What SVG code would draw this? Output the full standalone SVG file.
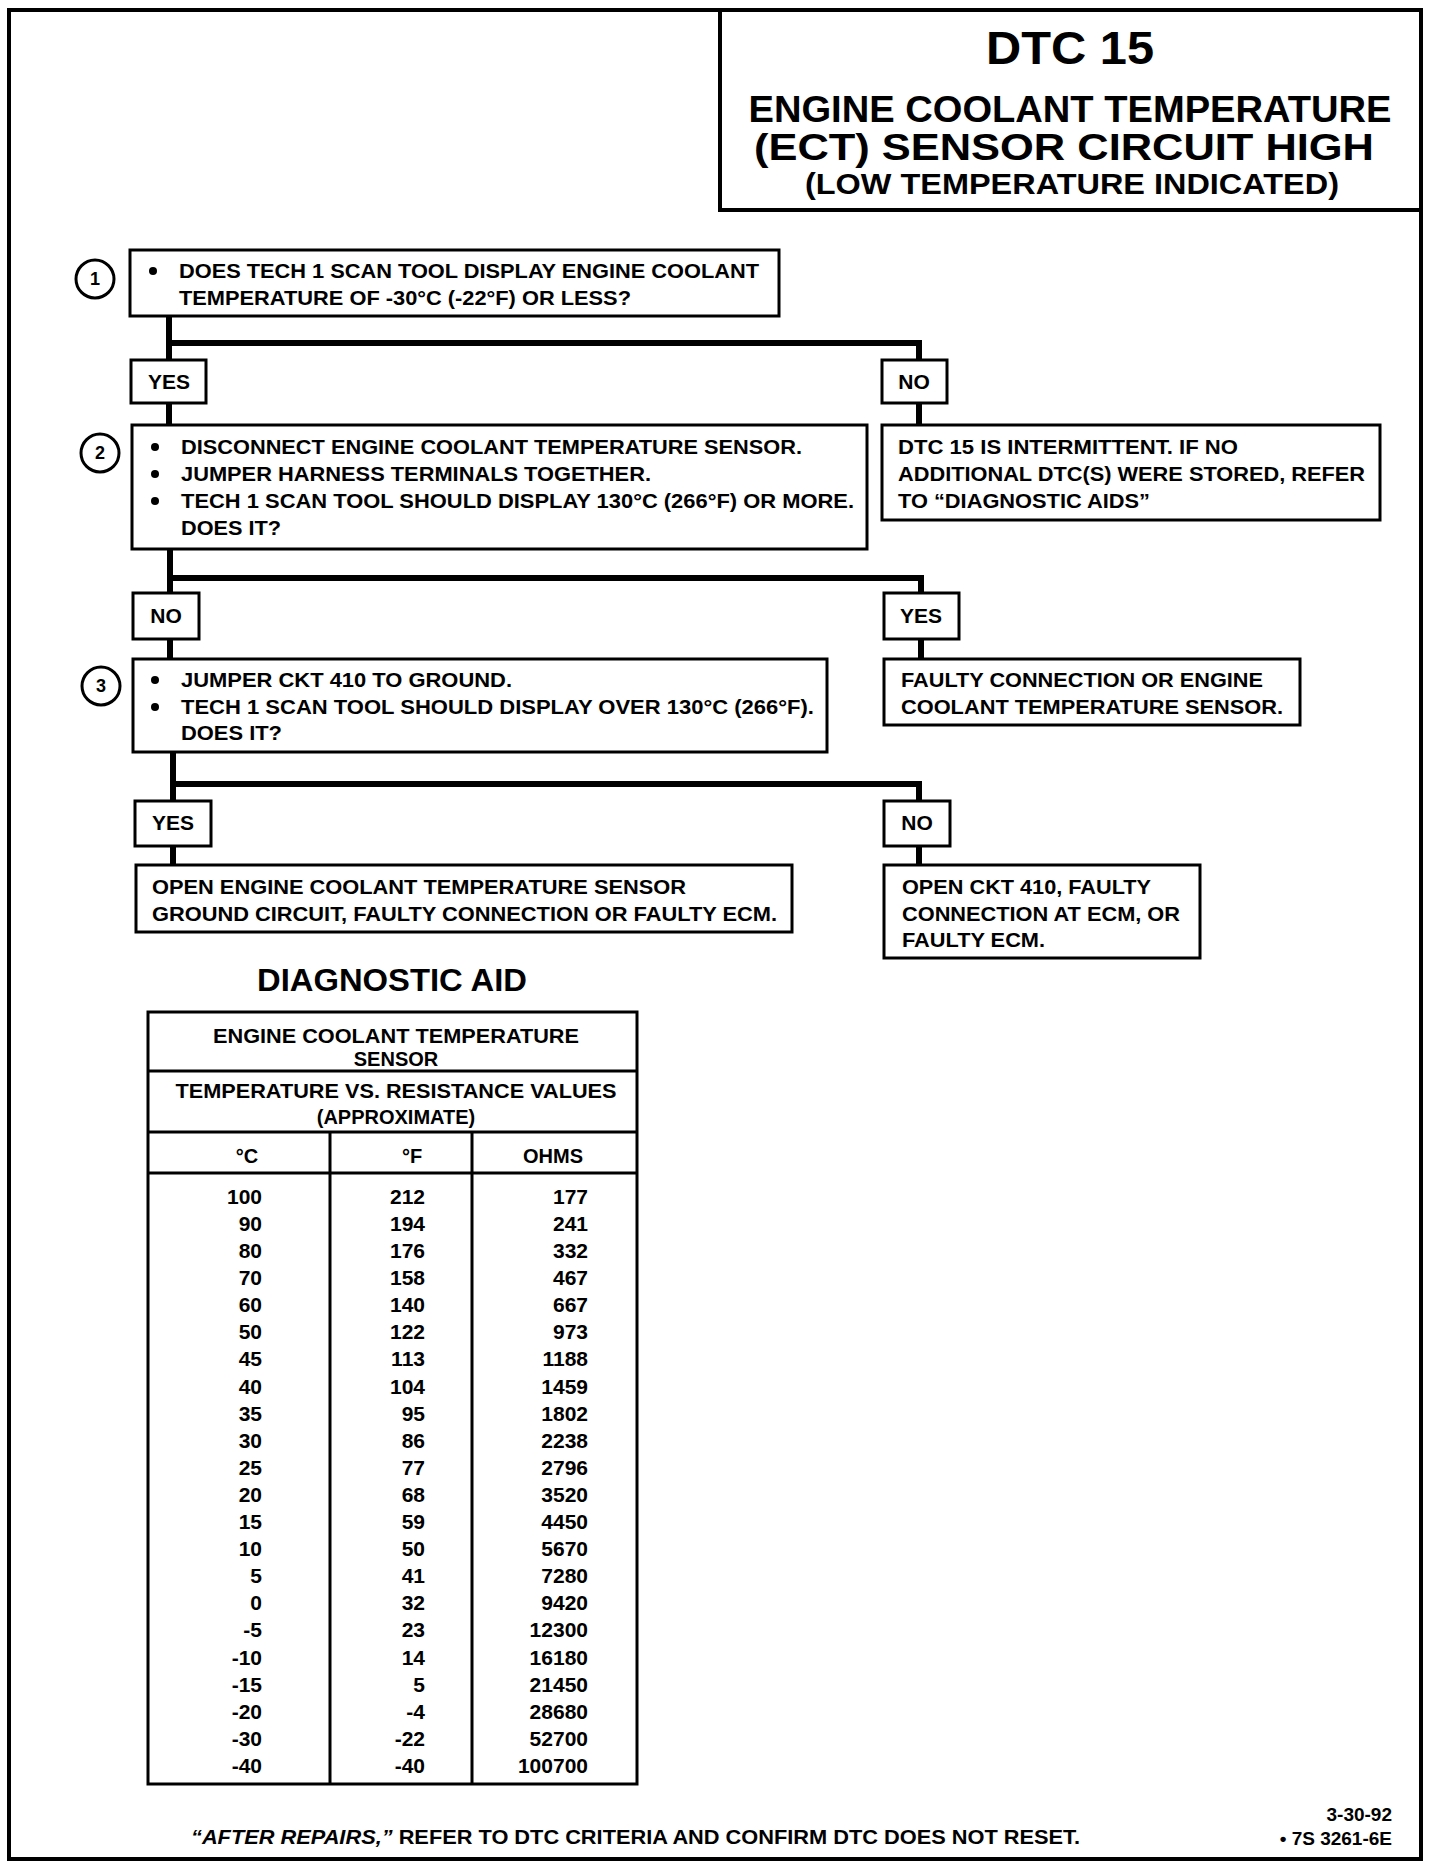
<svg xmlns="http://www.w3.org/2000/svg" width="1456" height="1868" viewBox="0 0 1456 1868">
<style>
text{font-family:"Liberation Sans",Arial,sans-serif;font-weight:bold;fill:#000}
.b{font-size:21px}
.lbl{font-size:21px;text-anchor:middle}
.box{fill:#fff;stroke:#000;stroke-width:3}
.num{font-size:18px;text-anchor:middle}
.th{font-size:20px;text-anchor:middle}
.td{font-size:21px;text-anchor:end}
.conn{fill:none;stroke:#000;stroke-width:6;stroke-linejoin:miter}
</style>
<rect x="0" y="0" width="1456" height="1868" fill="#fff"/>
<rect x="9" y="10" width="1412" height="1849" fill="none" stroke="#000" stroke-width="4"/>

<g id="title">
<path d="M720 10 V210 H1421" fill="none" stroke="#000" stroke-width="4"/>
<text x="1070" y="64" font-size="46" text-anchor="middle" textLength="168" lengthAdjust="spacingAndGlyphs">DTC 15</text>
<text x="1070" y="122" font-size="36" text-anchor="middle" textLength="643" lengthAdjust="spacingAndGlyphs">ENGINE COOLANT TEMPERATURE</text>
<text x="1064" y="160" font-size="36" text-anchor="middle" textLength="620" lengthAdjust="spacingAndGlyphs">(ECT) SENSOR CIRCUIT HIGH</text>
<text x="1072" y="194" font-size="29" text-anchor="middle" textLength="534" lengthAdjust="spacingAndGlyphs">(LOW TEMPERATURE INDICATED)</text>
</g>

<g id="connectors">
<path class="conn" d="M169 316 V343 H919 V360"/>
<path class="conn" d="M169 343 V360"/>
<path class="conn" d="M169 403 V425"/>
<path class="conn" d="M919 403 V425"/>
<path class="conn" d="M170 549 V578 H921 V593"/>
<path class="conn" d="M170 578 V593"/>
<path class="conn" d="M170 639 V659"/>
<path class="conn" d="M921 639 V659"/>
<path class="conn" d="M173 752 V784 H919 V801"/>
<path class="conn" d="M173 784 V801"/>
<path class="conn" d="M173 846 V865"/>
<path class="conn" d="M919 846 V865"/>
</g>

<g id="step1">
<circle cx="95" cy="279" r="19" fill="#fff" stroke="#000" stroke-width="3"/>
<text class="num" x="95" y="285">1</text>
<rect class="box" x="130" y="250" width="649" height="66"/>
<circle cx="153" cy="271" r="4"/>
<text class="b" x="179" y="278" textLength="580" lengthAdjust="spacingAndGlyphs">DOES TECH 1 SCAN TOOL DISPLAY ENGINE COOLANT</text>
<text class="b" x="179" y="305" textLength="452" lengthAdjust="spacingAndGlyphs">TEMPERATURE OF -30°C (-22°F) OR LESS?</text>
</g>

<g id="yes1">
<rect class="box" x="131" y="360" width="75" height="43"/>
<text class="lbl" x="169" y="389">YES</text>
</g>
<g id="no1">
<rect class="box" x="882" y="360" width="65" height="43"/>
<text class="lbl" x="914" y="389">NO</text>
</g>

<g id="step2">
<circle cx="100" cy="453" r="19" fill="#fff" stroke="#000" stroke-width="3"/>
<text class="num" x="100" y="459">2</text>
<rect class="box" x="132" y="425" width="735" height="124"/>
<circle cx="155" cy="447" r="4"/>
<circle cx="155" cy="474" r="4"/>
<circle cx="155" cy="501" r="4"/>
<text class="b" x="181" y="454" textLength="621" lengthAdjust="spacingAndGlyphs">DISCONNECT ENGINE COOLANT TEMPERATURE SENSOR.</text>
<text class="b" x="181" y="481" textLength="470" lengthAdjust="spacingAndGlyphs">JUMPER HARNESS TERMINALS TOGETHER.</text>
<text class="b" x="181" y="508" textLength="673" lengthAdjust="spacingAndGlyphs">TECH 1 SCAN TOOL SHOULD DISPLAY 130°C (266°F) OR MORE.</text>
<text class="b" x="181" y="535" textLength="100" lengthAdjust="spacingAndGlyphs">DOES IT?</text>
</g>

<g id="result-no1">
<rect class="box" x="882" y="425" width="498" height="95"/>
<text class="b" x="898" y="454" textLength="340" lengthAdjust="spacingAndGlyphs">DTC 15 IS INTERMITTENT.  IF NO</text>
<text class="b" x="898" y="481" textLength="467" lengthAdjust="spacingAndGlyphs">ADDITIONAL DTC(S) WERE STORED, REFER</text>
<text class="b" x="898" y="508" textLength="252" lengthAdjust="spacingAndGlyphs">TO “DIAGNOSTIC AIDS”</text>
</g>

<g id="no2">
<rect class="box" x="133" y="593" width="66" height="46"/>
<text class="lbl" x="166" y="623">NO</text>
</g>
<g id="yes2">
<rect class="box" x="884" y="593" width="75" height="46"/>
<text class="lbl" x="921" y="623">YES</text>
</g>

<g id="step3">
<circle cx="101" cy="686" r="19" fill="#fff" stroke="#000" stroke-width="3"/>
<text class="num" x="101" y="692">3</text>
<rect class="box" x="133" y="659" width="694" height="93"/>
<circle cx="155" cy="680" r="4"/>
<circle cx="155" cy="707" r="4"/>
<text class="b" x="181" y="687" textLength="331" lengthAdjust="spacingAndGlyphs">JUMPER CKT 410 TO GROUND.</text>
<text class="b" x="181" y="714" textLength="633" lengthAdjust="spacingAndGlyphs">TECH 1 SCAN TOOL SHOULD DISPLAY OVER 130°C (266°F).</text>
<text class="b" x="181" y="740" textLength="101" lengthAdjust="spacingAndGlyphs">DOES IT?</text>
</g>

<g id="result-yes2">
<rect class="box" x="884" y="659" width="416" height="66"/>
<text class="b" x="901" y="687" textLength="362" lengthAdjust="spacingAndGlyphs">FAULTY CONNECTION OR ENGINE</text>
<text class="b" x="901" y="714" textLength="382" lengthAdjust="spacingAndGlyphs">COOLANT TEMPERATURE SENSOR.</text>
</g>

<g id="yes3">
<rect class="box" x="135" y="801" width="76" height="45"/>
<text class="lbl" x="173" y="830">YES</text>
</g>
<g id="no3">
<rect class="box" x="884" y="801" width="66" height="45"/>
<text class="lbl" x="917" y="830">NO</text>
</g>

<g id="result-yes3">
<rect class="box" x="136" y="865" width="656" height="67"/>
<text class="b" x="152" y="894" textLength="534" lengthAdjust="spacingAndGlyphs">OPEN ENGINE COOLANT TEMPERATURE SENSOR</text>
<text class="b" x="152" y="921" textLength="625" lengthAdjust="spacingAndGlyphs">GROUND CIRCUIT, FAULTY CONNECTION OR FAULTY ECM.</text>
</g>

<g id="result-no3">
<rect class="box" x="884" y="865" width="316" height="93"/>
<text class="b" x="902" y="894" textLength="249" lengthAdjust="spacingAndGlyphs">OPEN CKT 410, FAULTY</text>
<text class="b" x="902" y="921" textLength="278" lengthAdjust="spacingAndGlyphs">CONNECTION AT ECM, OR</text>
<text class="b" x="902" y="947" textLength="143" lengthAdjust="spacingAndGlyphs">FAULTY ECM.</text>
</g>

<g id="diagnostic-aid">
<text x="392" y="991" font-size="31" text-anchor="middle" textLength="270" lengthAdjust="spacingAndGlyphs">DIAGNOSTIC AID</text>
<rect x="148" y="1012" width="489" height="772" fill="none" stroke="#000" stroke-width="3"/>
<line x1="148" y1="1071" x2="637" y2="1071" stroke="#000" stroke-width="3"/>
<line x1="148" y1="1132" x2="637" y2="1132" stroke="#000" stroke-width="3"/>
<line x1="148" y1="1173" x2="637" y2="1173" stroke="#000" stroke-width="3"/>
<line x1="330" y1="1132" x2="330" y2="1784" stroke="#000" stroke-width="3"/>
<line x1="472" y1="1132" x2="472" y2="1784" stroke="#000" stroke-width="3"/>
<text class="th" x="396" y="1043" textLength="366" lengthAdjust="spacingAndGlyphs">ENGINE COOLANT TEMPERATURE</text>
<text class="th" x="396" y="1066">SENSOR</text>
<text class="th" x="396" y="1098" textLength="441" lengthAdjust="spacingAndGlyphs">TEMPERATURE VS. RESISTANCE VALUES</text>
<text class="th" x="396" y="1124">(APPROXIMATE)</text>
<text class="th" x="247" y="1163">°C</text>
<text class="th" x="412" y="1163">°F</text>
<text class="th" x="553" y="1163">OHMS</text>
<g class="td">
<text class="td" x="262" y="1204">100</text><text class="td" x="425" y="1204">212</text><text class="td" x="588" y="1204">177</text>
<text class="td" x="262" y="1231">90</text><text class="td" x="425" y="1231">194</text><text class="td" x="588" y="1231">241</text>
<text class="td" x="262" y="1258">80</text><text class="td" x="425" y="1258">176</text><text class="td" x="588" y="1258">332</text>
<text class="td" x="262" y="1285">70</text><text class="td" x="425" y="1285">158</text><text class="td" x="588" y="1285">467</text>
<text class="td" x="262" y="1312">60</text><text class="td" x="425" y="1312">140</text><text class="td" x="588" y="1312">667</text>
<text class="td" x="262" y="1339">50</text><text class="td" x="425" y="1339">122</text><text class="td" x="588" y="1339">973</text>
<text class="td" x="262" y="1366">45</text><text class="td" x="425" y="1366">113</text><text class="td" x="588" y="1366">1188</text>
<text class="td" x="262" y="1394">40</text><text class="td" x="425" y="1394">104</text><text class="td" x="588" y="1394">1459</text>
<text class="td" x="262" y="1421">35</text><text class="td" x="425" y="1421">95</text><text class="td" x="588" y="1421">1802</text>
<text class="td" x="262" y="1448">30</text><text class="td" x="425" y="1448">86</text><text class="td" x="588" y="1448">2238</text>
<text class="td" x="262" y="1475">25</text><text class="td" x="425" y="1475">77</text><text class="td" x="588" y="1475">2796</text>
<text class="td" x="262" y="1502">20</text><text class="td" x="425" y="1502">68</text><text class="td" x="588" y="1502">3520</text>
<text class="td" x="262" y="1529">15</text><text class="td" x="425" y="1529">59</text><text class="td" x="588" y="1529">4450</text>
<text class="td" x="262" y="1556">10</text><text class="td" x="425" y="1556">50</text><text class="td" x="588" y="1556">5670</text>
<text class="td" x="262" y="1583">5</text><text class="td" x="425" y="1583">41</text><text class="td" x="588" y="1583">7280</text>
<text class="td" x="262" y="1610">0</text><text class="td" x="425" y="1610">32</text><text class="td" x="588" y="1610">9420</text>
<text class="td" x="262" y="1637">-5</text><text class="td" x="425" y="1637">23</text><text class="td" x="588" y="1637">12300</text>
<text class="td" x="262" y="1665">-10</text><text class="td" x="425" y="1665">14</text><text class="td" x="588" y="1665">16180</text>
<text class="td" x="262" y="1692">-15</text><text class="td" x="425" y="1692">5</text><text class="td" x="588" y="1692">21450</text>
<text class="td" x="262" y="1719">-20</text><text class="td" x="425" y="1719">-4</text><text class="td" x="588" y="1719">28680</text>
<text class="td" x="262" y="1746">-30</text><text class="td" x="425" y="1746">-22</text><text class="td" x="588" y="1746">52700</text>
<text class="td" x="262" y="1773">-40</text><text class="td" x="425" y="1773">-40</text><text class="td" x="588" y="1773">100700</text>
</g>
</g>

<g id="footer">
<text x="191" y="1844" font-size="20" textLength="889" lengthAdjust="spacingAndGlyphs"><tspan font-style="italic">“AFTER REPAIRS,”</tspan> REFER TO DTC CRITERIA AND CONFIRM DTC DOES NOT RESET.</text>
<text x="1392" y="1821" font-size="19" text-anchor="end">3-30-92</text>
<text x="1392" y="1845" font-size="19" text-anchor="end">• 7S 3261-6E</text>
</g>
</svg>
